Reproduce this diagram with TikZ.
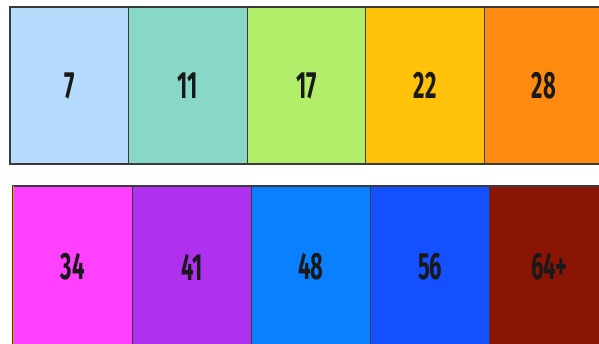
\documentclass[tikz,border=0pt]{standalone}
\usepackage{fontspec}
\usepackage{xcolor}
\usetikzlibrary{positioning}
\newfontfamily\numfont[FakeStretch=0.58]{Fira Sans}

\definecolor{cA}{HTML}{B5DCFD}
\definecolor{cB}{HTML}{88D8C8}
\definecolor{cC}{HTML}{B2EE6A}
\definecolor{cD}{HTML}{FFC20A}
\definecolor{cE}{HTML}{FF8A10}
\definecolor{cF}{HTML}{FF40FF}
\definecolor{cG}{HTML}{B030F0}
\definecolor{cH}{HTML}{0A80FF}
\definecolor{cI}{HTML}{1550FF}
\definecolor{cJ}{HTML}{8B1505}
\definecolor{edge}{HTML}{3A3A3A}

\tikzset{
    bin/.style={draw=edge, line width=1.2pt, rectangle, outer sep=0pt, inner sep=0pt,
        minimum width=118.6pt, minimum height=157pt,
        font=\numfont\bfseries\fontsize{38}{38}\selectfont, text=black!90}
}

\begin{document}
\begin{tikzpicture}[x=1pt,y=1pt]
        \useasboundingbox[fill=white] (0,0) rectangle (599,-343);

        % top row
        \node[bin, fill=cA] (t1) at (69.3,-85.5) {7};
        \foreach \i/\j/\c/\v in {2/1/cB/11, 3/2/cC/17, 4/3/cD/22, 5/4/cE/28}
            \node[bin, fill=\c, right=0pt of t\j] (t\i) {\v};

        % bottom row
        \node[bin, fill=cF, minimum width=119.2pt, minimum height=162pt] (b1) at (72.6,-267) {34};
        \foreach \i/\j/\c/\v in {2/1/cG/41, 3/2/cH/48, 4/3/cI/56, 5/4/cJ/64+}
            \node[bin, fill=\c, minimum width=119.2pt, minimum height=162pt, right=0pt of b\j] (b\i) {\v};
        \draw[cE, line width=1pt] (b1.north west) -- (b1.south west);
    \end{tikzpicture}
\end{document}
